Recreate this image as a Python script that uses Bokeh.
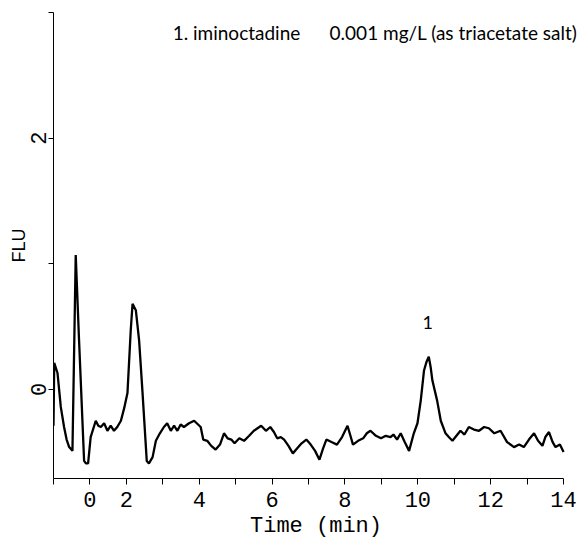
from bokeh.plotting import figure
from bokeh.models import Range1d, FixedTicker, Label, ColumnDataSource
from bokeh.core.properties import value
from bokeh.embed import file_html
from bokeh.resources import INLINE

# chromatogram trace (time in min, signal in FLU)
time_min = [0.00, 0.02, 0.11, 0.20, 0.29, 0.36, 0.43, 0.52, 0.61, 0.70, 0.84, 0.89, 0.95,
            1.02, 1.16, 1.23, 1.30, 1.39, 1.48, 1.57, 1.66, 1.75, 1.85, 1.94, 2.03,
            2.12, 2.17, 2.26, 2.35, 2.44, 2.56, 2.62, 2.72, 2.81, 2.92, 3.03, 3.12,
            3.22, 3.31, 3.40, 3.49, 3.58, 3.72, 3.86, 4.04, 4.11, 4.22, 4.33, 4.45,
            4.57, 4.68, 4.78, 4.88, 4.97, 5.10, 5.23, 5.37, 5.50, 5.60, 5.70, 5.83,
            5.95, 6.05, 6.14, 6.24, 6.33, 6.45, 6.57, 6.69, 6.81, 6.94, 7.06, 7.18,
            7.30, 7.40, 7.49, 7.63, 7.78, 7.92, 8.07, 8.15, 8.22, 8.36, 8.50, 8.60,
            8.70, 8.85, 8.99, 9.12, 9.25, 9.33, 9.43, 9.53, 9.64, 9.76, 9.89, 9.99,
            10.08, 10.17, 10.24, 10.30, 10.35, 10.40, 10.53, 10.63, 10.76, 10.85,
            10.95, 11.06, 11.17, 11.28, 11.40, 11.54, 11.68, 11.82, 11.95, 12.10,
            12.27, 12.45, 12.64, 12.78, 12.91, 13.05, 13.19, 13.30, 13.42, 13.50,
            13.60, 13.70, 13.78, 13.90, 14.00]
flu = [-0.29, 0.21, 0.13, -0.14, -0.30, -0.40, -0.46, -0.49, 1.07, 0.40, -0.57, -0.59, -0.59,
       -0.38, -0.25, -0.29, -0.30, -0.27, -0.33, -0.29, -0.33, -0.30, -0.25, -0.15, -0.03,
       0.47, 0.68, 0.63, 0.39, -0.01, -0.57, -0.59, -0.54, -0.41, -0.35, -0.30, -0.27,
       -0.33, -0.29, -0.33, -0.28, -0.30, -0.27, -0.25, -0.30, -0.40, -0.41, -0.45, -0.48,
       -0.44, -0.35, -0.39, -0.40, -0.43, -0.39, -0.41, -0.37, -0.33, -0.31, -0.29, -0.33,
       -0.30, -0.34, -0.39, -0.38, -0.40, -0.45, -0.51, -0.47, -0.43, -0.40, -0.44, -0.49,
       -0.56, -0.47, -0.40, -0.42, -0.44, -0.38, -0.29, -0.37, -0.44, -0.41, -0.39, -0.35,
       -0.33, -0.37, -0.39, -0.37, -0.38, -0.36, -0.40, -0.35, -0.42, -0.49, -0.35, -0.27,
       -0.09, 0.15, 0.22, 0.26, 0.18, 0.07, -0.09, -0.25, -0.35, -0.38,
       -0.41, -0.37, -0.33, -0.36, -0.30, -0.32, -0.33, -0.30, -0.31, -0.35,
       -0.33, -0.42, -0.46, -0.44, -0.46, -0.40, -0.35, -0.41, -0.45, -0.38,
       -0.34, -0.42, -0.46, -0.44, -0.50]

# axes
x_tick_positions = list(range(0, 15))
x_label_positions = [1, 2, 4, 6, 8, 10, 12, 14]
x_label_texts = ["0", "2", "4", "6", "8", "10", "12", "14"]
y_tick_positions = [0, 1, 2, 3]
y_label_positions = [0, 2]
y_label_texts = ["0", "2"]

# peak annotation
peak_time = [10.27]
peak_flu = [0.53]
peak_text = ["1"]

title_left = "1. iminoctadine"
title_right = "0.001 mg/L (as triacetate salt)"

p = figure(width=581, height=542, output_backend="svg", toolbar_location=None,
           x_range=Range1d(0, 14.41), y_range=Range1d(-0.71, 3.0),
           min_border_left=53, min_border_right=3, min_border_top=12, min_border_bottom=64)
p.outline_line_color = None
p.xgrid.visible = False
p.ygrid.visible = False
p.background_fill_color = "white"

p.line(time_min, flu, line_color="black", line_width=2.3)

src = ColumnDataSource(dict(x=peak_time, y=peak_flu, t=peak_text))
p.text(x="x", y="y", text="t", source=src, text_font=value("Lato"),
       text_font_size="18px", text_align="center", text_baseline="middle", text_color="black")

p.add_layout(Label(x=3.27, y=2.84, text=title_left, text_font="Lato", text_font_size="19px",
                   text_align="left", text_baseline="middle", text_color="black"))
p.add_layout(Label(x=14.38, y=2.84, text=title_right, text_font="Lato", text_font_size="19px",
                   text_align="right", text_baseline="middle", text_color="black"))

# x axis
xa = p.xaxis[0]
xa.bounds = (0, 14)
xa.ticker = FixedTicker(ticks=x_tick_positions)
xa.minor_tick_line_color = None
xa.major_label_overrides = {t: "" for t in x_tick_positions}
xa.major_label_overrides.update({pos: txt for pos, txt in zip(x_label_positions, x_label_texts)})
xa.major_tick_out = 6
xa.major_tick_in = 0
xa.major_label_standoff = 7
xa.major_label_text_font = "Liberation Mono"
xa.major_label_text_font_size = "22px"
xa.major_label_text_color = "black"
xa.axis_label = "Time (min)"
xa.axis_label_text_font = "Liberation Mono"
xa.axis_label_text_font_size = "22px"
xa.axis_label_text_font_style = "normal"
xa.axis_label_text_color = "black"
xa.axis_label_standoff = 4
xa.axis_line_color = "black"
xa.major_tick_line_color = "black"

# y axis
ya = p.yaxis[0]
ya.ticker = FixedTicker(ticks=y_tick_positions)
ya.minor_tick_line_color = None
ya.major_label_overrides = {t: "" for t in y_tick_positions}
ya.major_label_overrides.update({pos: txt for pos, txt in zip(y_label_positions, y_label_texts)})
ya.major_label_orientation = "vertical"
ya.major_tick_out = 5
ya.major_tick_in = 0
ya.major_label_standoff = 2
ya.major_label_text_font = "Liberation Mono"
ya.major_label_text_font_size = "22px"
ya.major_label_text_color = "black"
ya.axis_label = "FLU"
ya.axis_label_text_font = "Liberation Sans"
ya.axis_label_text_font_size = "18px"
ya.axis_label_text_font_style = "normal"
ya.axis_label_text_color = "black"
ya.axis_label_standoff = 0
ya.axis_line_color = "black"
ya.major_tick_line_color = "black"

open("out.html", "w").write(file_html(p, INLINE))
